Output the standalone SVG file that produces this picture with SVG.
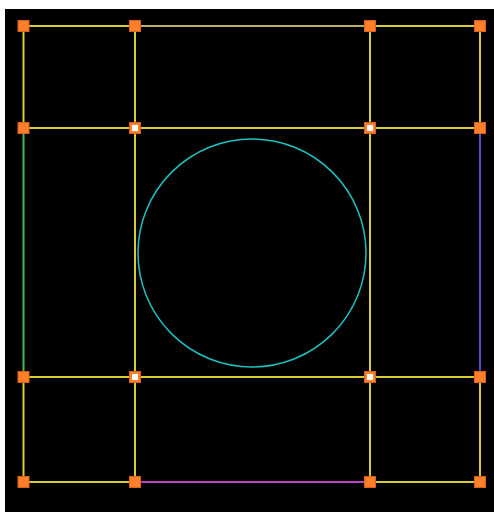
<svg xmlns="http://www.w3.org/2000/svg" width="494" height="512" viewBox="0 0 494 512">
<style>
.e{stroke:#d8cc30;stroke-width:2;fill:none}
.n{fill:#ff7f2a;stroke:#d9601a;stroke-width:1}
.w{fill:#ffffff}
</style>
<rect x="0" y="0" width="494" height="512" fill="#ffffff"/>
<rect x="5" y="9" width="489" height="503" fill="#000000"/>
<g id="connectors">
<line class="e" x1="23.5" y1="26" x2="135" y2="26"/>
<line class="e" x1="135" y1="26" x2="370" y2="26" style="stroke:#b8b060"/>
<line class="e" x1="370" y1="26" x2="480" y2="26"/>
<line class="e" x1="23.5" y1="128" x2="480" y2="128"/>
<line class="e" x1="23.5" y1="377" x2="480" y2="377"/>
<line class="e" x1="23.5" y1="482" x2="135" y2="482"/>
<line class="e" x1="135" y1="482" x2="370" y2="482" style="stroke:#c040c8"/>
<line class="e" x1="370" y1="482" x2="480" y2="482"/>
<line class="e" x1="23.5" y1="26" x2="23.5" y2="128"/>
<line class="e" x1="23.5" y1="128" x2="23.5" y2="377" style="stroke:#40c048"/>
<line class="e" x1="23.5" y1="377" x2="23.5" y2="482"/>
<line class="e" x1="135" y1="26" x2="135" y2="482"/>
<line class="e" x1="370" y1="26" x2="370" y2="482"/>
<line class="e" x1="480" y1="26" x2="480" y2="128"/>
<line class="e" x1="480" y1="128" x2="480" y2="377" style="stroke:#5050d0"/>
<line class="e" x1="480" y1="377" x2="480" y2="482"/>
</g>
<g id="circle"><circle cx="252" cy="253" r="114" fill="none" stroke="#20c0c0" stroke-width="1.5"/></g>
<g id="n1"><rect class="n" x="18" y="20.5" width="11" height="11"/></g>
<g id="n2"><rect class="n" x="129.5" y="20.5" width="11" height="11"/></g>
<g id="n3"><rect class="n" x="364.5" y="20.5" width="11" height="11"/></g>
<g id="n4"><rect class="n" x="474.5" y="20.5" width="11" height="11"/></g>
<g id="n5"><rect class="n" x="18" y="122.5" width="11" height="11"/></g>
<g id="n6"><rect class="n" x="129.5" y="122.5" width="11" height="11"/><rect class="w" x="132" y="125" width="6" height="6"/></g>
<g id="n7"><rect class="n" x="364.5" y="122.5" width="11" height="11"/><rect class="w" x="367" y="125" width="6" height="6"/></g>
<g id="n8"><rect class="n" x="474.5" y="122.5" width="11" height="11"/></g>
<g id="n9"><rect class="n" x="18" y="371.5" width="11" height="11"/></g>
<g id="n10"><rect class="n" x="129.5" y="371.5" width="11" height="11"/><rect class="w" x="132" y="374" width="6" height="6"/></g>
<g id="n11"><rect class="n" x="364.5" y="371.5" width="11" height="11"/><rect class="w" x="367" y="374" width="6" height="6"/></g>
<g id="n12"><rect class="n" x="474.5" y="371.5" width="11" height="11"/></g>
<g id="n13"><rect class="n" x="18" y="476.5" width="11" height="11"/></g>
<g id="n14"><rect class="n" x="129.5" y="476.5" width="11" height="11"/></g>
<g id="n15"><rect class="n" x="364.5" y="476.5" width="11" height="11"/></g>
<g id="n16"><rect class="n" x="474.5" y="476.5" width="11" height="11"/></g>
</svg>
